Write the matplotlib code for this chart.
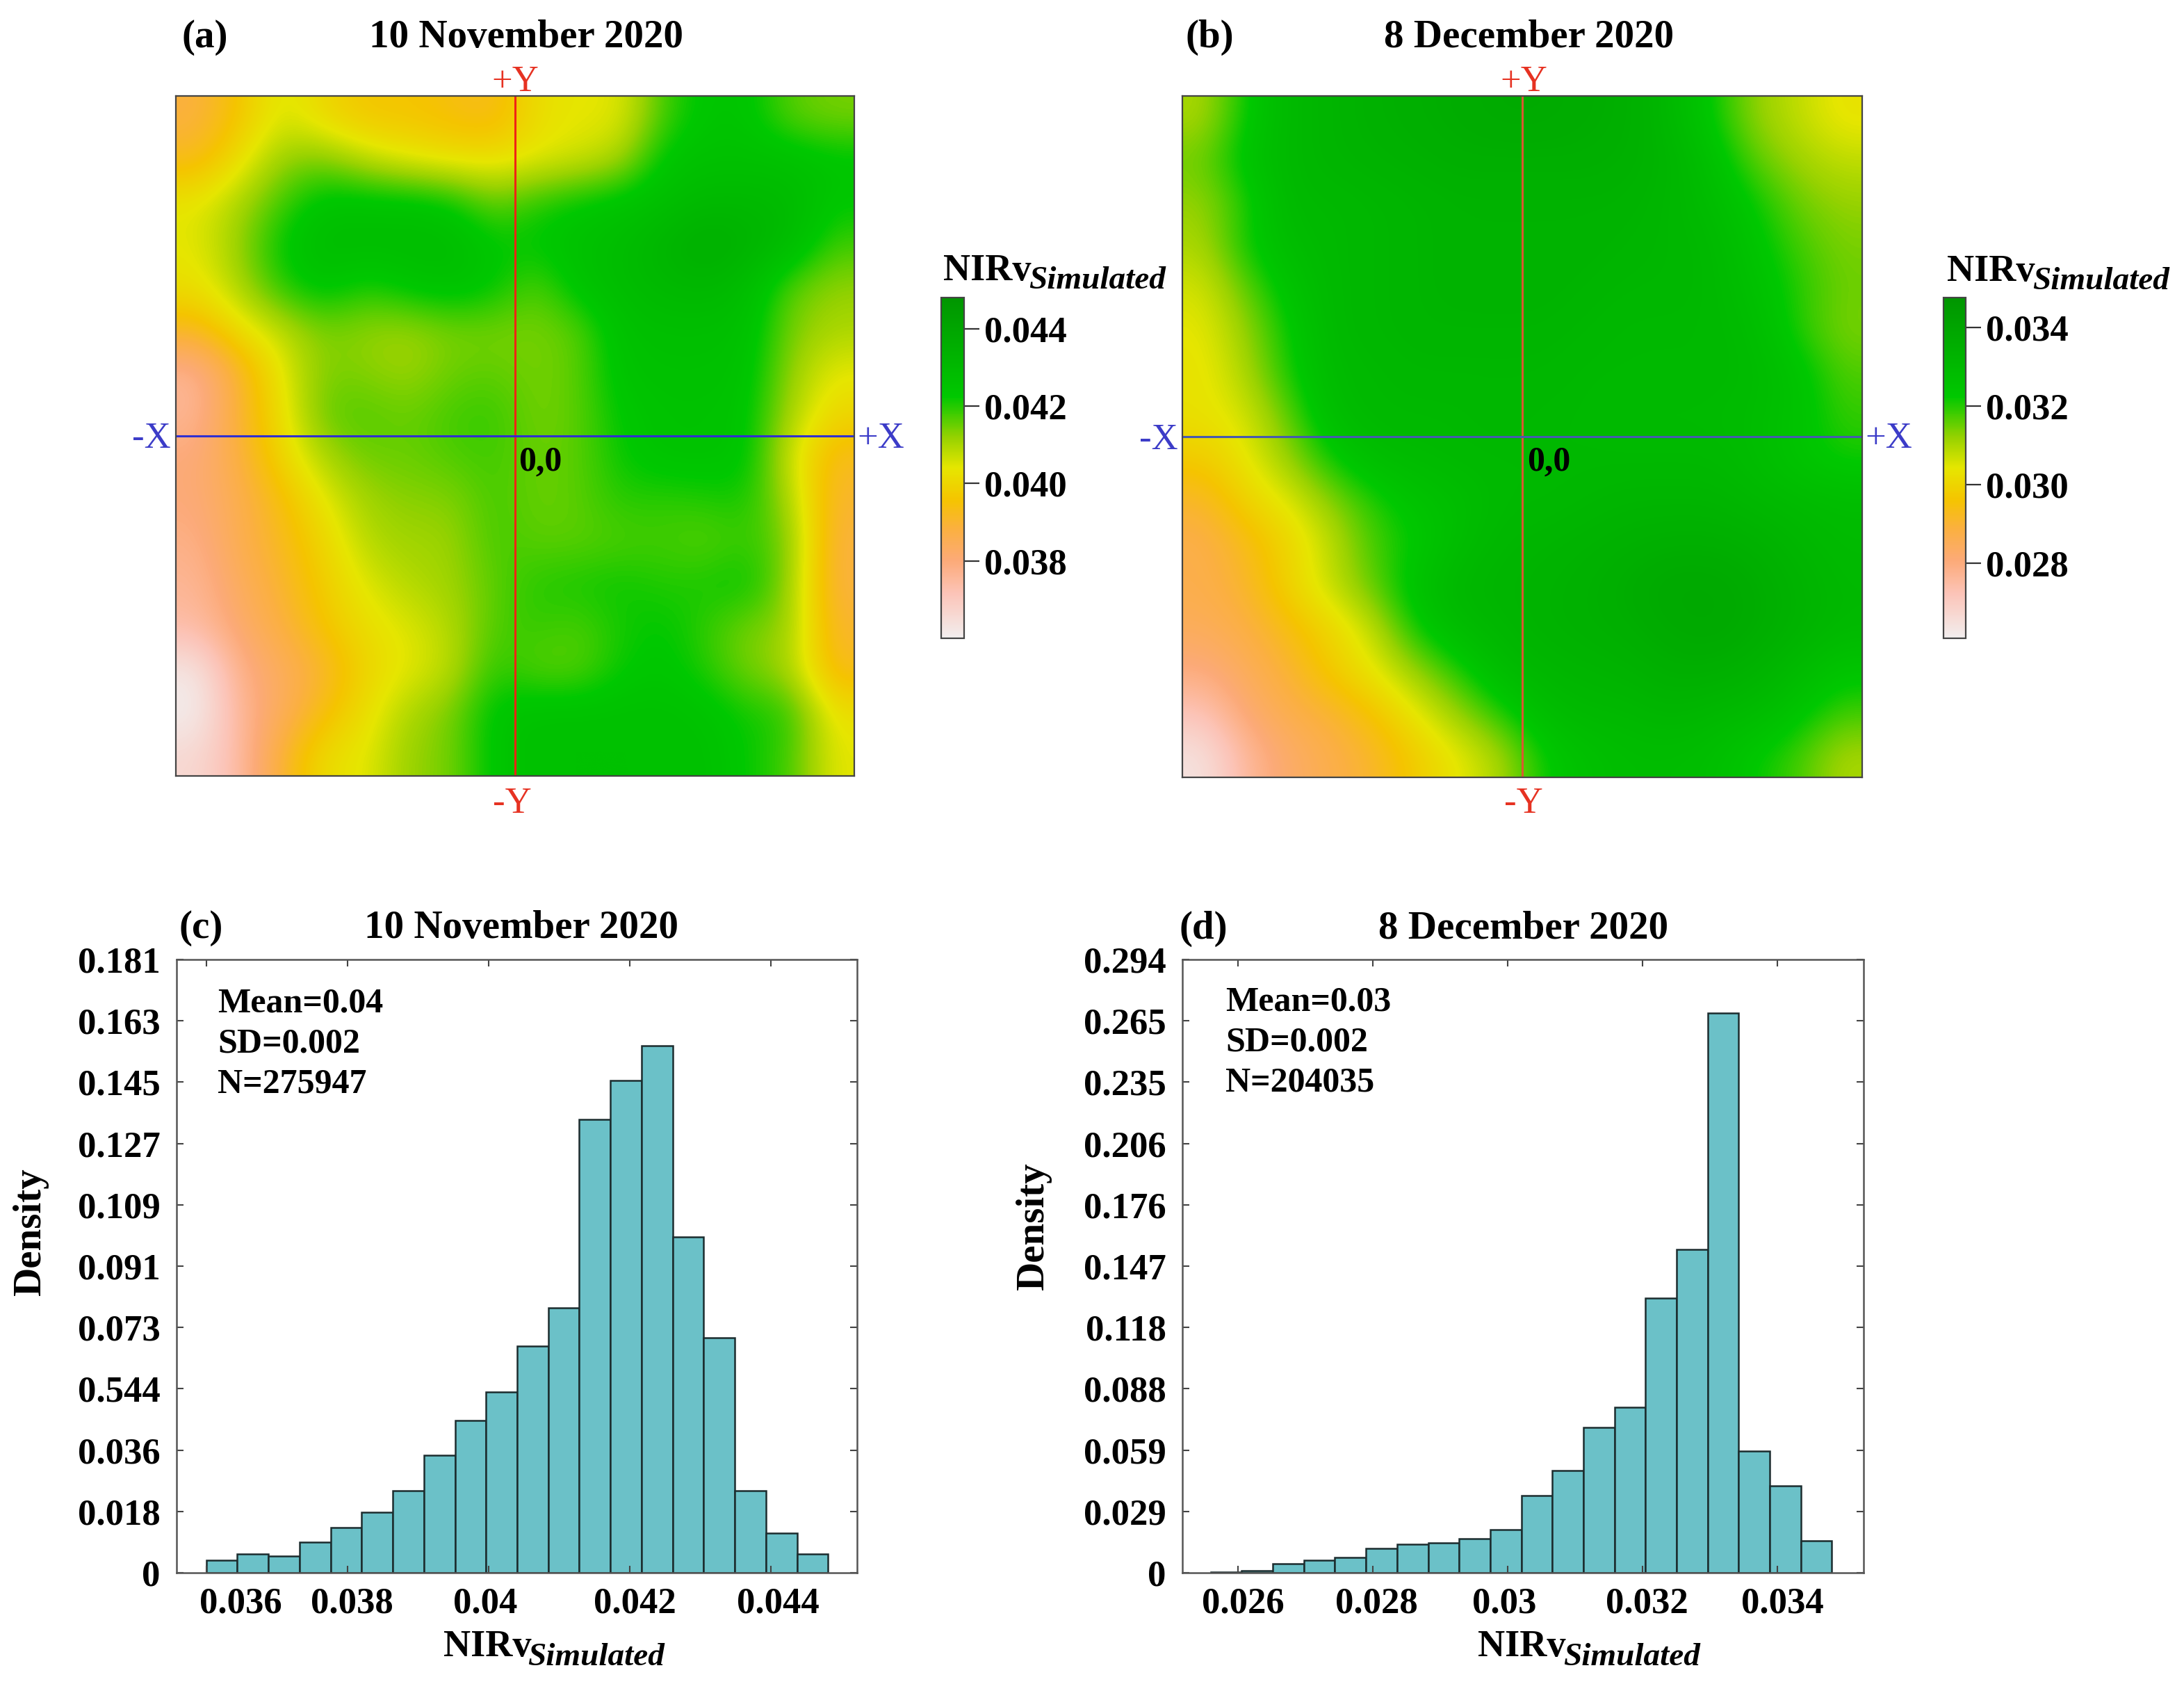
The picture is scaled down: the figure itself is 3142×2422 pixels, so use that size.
import numpy as np
import matplotlib
matplotlib.use('Agg')
import matplotlib.pyplot as plt
from matplotlib.colors import LinearSegmentedColormap
from matplotlib.transforms import ScaledTranslation

W, H = 3142, 2422
plt.rcParams['font.family'] = ['Liberation Serif', 'DejaVu Serif']
plt.rcParams['font.weight'] = 'bold'

# NIRv maps, units of 1e-4, top row first
map_nov = np.array([
    [388, 396, 406, 400, 396, 396, 394, 392, 402, 404, 404, 418, 424, 424, 416, 414],
    [392, 402, 412, 414, 408, 404, 402, 402, 404, 406, 410, 424, 426, 426, 426, 424],
    [404, 410, 418, 425, 425, 425, 423, 415, 420, 423, 425, 427, 430, 430, 429, 423],
    [404, 412, 423, 428, 428, 428, 428, 423, 423, 426, 428, 432, 436, 433, 429, 418],
    [402, 410, 420, 425, 420, 424, 426, 423, 416, 425, 428, 430, 431, 428, 416, 412],
    [392, 402, 408, 414, 412, 411, 414, 414, 414, 416, 426, 427, 427, 426, 414, 410],
    [376, 390, 404, 414, 413, 411, 415, 416, 414, 416, 425, 426, 426, 425, 412, 404],
    [376, 390, 402, 416, 417, 415, 418, 419, 414, 416, 423, 425, 425, 424, 410, 400],
    [380, 388, 400, 410, 415, 415, 417, 418, 415, 416, 422, 425, 425, 424, 406, 392],
    [380, 386, 394, 404, 411, 413, 413, 418, 415, 416, 420, 419, 420, 421, 410, 390],
    [378, 386, 392, 400, 409, 411, 411, 418, 416, 416, 417, 418, 416, 419, 414, 388],
    [376, 384, 390, 398, 405, 409, 411, 416, 420, 421, 422, 420, 421, 423, 412, 388],
    [374, 382, 388, 396, 402, 405, 409, 417, 419, 417, 421, 423, 419, 414, 412, 390],
    [362, 378, 384, 390, 400, 404, 408, 420, 416, 416, 422, 424, 420, 414, 410, 392],
    [360, 376, 384, 394, 402, 410, 414, 424, 426, 426, 426, 426, 425, 421, 420, 402],
    [366, 374, 390, 402, 404, 412, 414, 424, 426, 426, 426, 426, 426, 422, 418, 404],
]) * 1e-4

map_dec = np.array([
    [310, 322, 330, 332, 334, 335, 336, 337, 337, 336, 335, 330, 322, 312, 308, 303],
    [315, 325, 330, 332, 333, 334, 335, 335, 335, 335, 334, 332, 326, 316, 311, 308],
    [312, 320, 330, 330, 331, 332, 333, 333, 333, 333, 333, 331, 328, 322, 315, 312],
    [310, 322, 328, 330, 331, 332, 333, 333, 333, 333, 332, 331, 330, 324, 318, 314],
    [306, 316, 325, 330, 331, 332, 333, 333, 333, 332, 331, 331, 330, 326, 320, 315],
    [304, 312, 322, 330, 331, 332, 332, 332, 332, 331, 330, 330, 330, 328, 320, 314],
    [303, 310, 321, 329, 330, 331, 331, 331, 331, 330, 330, 330, 330, 329, 325, 317],
    [303, 306, 316, 328, 330, 330, 330, 331, 330, 330, 329, 329, 329, 328, 325, 319],
    [298, 304, 312, 322, 328, 329, 330, 330, 330, 330, 330, 330, 330, 328, 324, 321],
    [291, 300, 305, 313, 320, 325, 327, 330, 330, 331, 332, 332, 332, 330, 329, 328],
    [287, 293, 300, 308, 318, 322, 328, 331, 332, 333, 334, 335, 335, 334, 331, 329],
    [287, 291, 300, 308, 316, 326, 331, 332, 333, 334, 336, 338, 338, 336, 333, 330],
    [285, 288, 294, 300, 308, 322, 329, 331, 333, 334, 335, 337, 338, 336, 333, 330],
    [280, 285, 290, 298, 304, 312, 320, 329, 331, 332, 333, 335, 335, 333, 329, 324],
    [272, 282, 287, 290, 296, 304, 312, 320, 328, 330, 330, 332, 330, 329, 324, 318],
    [264, 276, 283, 287, 291, 298, 304, 310, 322, 326, 328, 328, 327, 322, 318, 310],
]) * 1e-4

# histogram bar heights
dens_nov = [.0037, .0055, .0049, .0090, .0134, .0178, .0243, .0346, .0449, .0533,
            .0668, .0782, .1337, .1453, .1556, .0992, .0694, .0243, .0116, .0055]
dens_dec = [.0002, .0010, .0044, .0061, .0073, .0116, .0136, .0143, .0162, .0208,
            .0371, .0490, .0696, .0793, .1316, .1549, .2683, .0584, .0417, .0153]
bins_nov = (0.0360, 0.04481)
bins_dec = (0.0256, 0.03481)

xticks_nov = [0.036, 0.038, 0.04, 0.042, 0.044]
xticks_dec = [0.026, 0.028, 0.03, 0.032, 0.034]
xlabels_nov = ['0.036', '0.038', '0.04', '0.042', '0.044']
xlabels_dec = ['0.026', '0.028', '0.03', '0.032', '0.034']
ylabels_nov = ['0', '0.018', '0.036', '0.544', '0.073', '0.091', '0.109', '0.127', '0.145', '0.163', '0.181']
ylabels_dec = ['0', '0.029', '0.059', '0.088', '0.118', '0.147', '0.176', '0.206', '0.235', '0.265', '0.294']
cb_ticks_nov = [0.038, 0.040, 0.042, 0.044]
cb_ticks_dec = [0.028, 0.030, 0.032, 0.034]

cmap = LinearSegmentedColormap.from_list('nirv', [
    (0.0, '#f2eeee'), (0.13, '#fcc4b8'), (0.227, '#fcaa78'), (0.32, '#fbb040'),
    (0.406, '#f5c400'), (0.5, '#e6e600'), (0.59, '#96d200'), (0.71, '#00c800'),
    (1.0, '#009600')])

fig = plt.figure(figsize=(W / 100, H / 100), dpi=100)


def axes_px(x0, y0, x1, y1):
    return fig.add_axes([x0 / W, 1 - y1 / H, (x1 - x0) / W, (y1 - y0) / H])


def label(x, y, s, size=41, ha='center', va='center', **kw):
    return fig.text(x / W, 1 - y / H, s, fontsize=size, ha=ha, va=va, **kw)


def nirv_label(x_nirv, x_sim, base, base_sim):
    label(x_nirv, base, 'NIRv', size=39, ha='left', va='baseline')
    label(x_sim, base_sim, 'Simulated', size=34, ha='left', va='baseline', style='italic')


def map_panel(box, data, vmin, vmax, cb_box, cb_ticks, vcol, hcol):
    ax = axes_px(*box)
    im = ax.imshow(data, cmap=cmap, vmin=vmin, vmax=vmax, extent=(-1, 1, -1, 1),
                   interpolation='bicubic', aspect='auto')
    ax.axvline(0, color=vcol, lw=2.2)
    ax.axhline(0, color=hcol, lw=2.2)
    ax.set_xticks([])
    ax.set_yticks([])
    for s in ax.spines.values():
        s.set_linewidth(1.6)
        s.set_color('#444444')
    cax = axes_px(*cb_box)
    cb = fig.colorbar(im, cax=cax, ticks=cb_ticks)
    cb.ax.set_yticklabels([f'{t:.3f}' for t in cb_ticks])
    cb.ax.tick_params(length=16, width=1.6, color='#333333', labelsize=38, pad=5)
    cb.outline.set_linewidth(1.6)
    cb.outline.set_edgecolor('#444444')
    return ax


def hist_panel(box, dens, bins, xlim, ymax, xticks, xlabels, ylabels, offsets):
    ax = axes_px(*box)
    edges = np.linspace(bins[0], bins[1], len(dens) + 1)
    ax.bar(edges[:-1], dens, width=np.diff(edges), align='edge',
           color='#6BC1C8', edgecolor='#1c2c2e', linewidth=1.8)
    ax.set_xlim(*xlim)
    ax.set_ylim(0, ymax)
    ax.set_xticks(xticks)
    ax.set_xticklabels(xlabels)
    ax.set_yticks(np.linspace(0, ymax, len(ylabels)))
    ax.set_yticklabels(ylabels)
    ax.tick_params(axis='both', direction='in', length=7, width=1.5, color='#444444',
                   top=True, right=True, labelsize=38)
    ax.tick_params(axis='x', pad=15)
    ax.tick_params(axis='y', pad=17)
    for s in ax.spines.values():
        s.set_linewidth(1.8)
        s.set_color('#555555')
    # x labels are not centred on their ticks in the original
    for lab, off in zip(ax.get_xticklabels(), offsets):
        lab.set_transform(lab.get_transform() + ScaledTranslation(off / 100, 0, fig.dpi_scale_trans))
    return ax


red = '#e63222'
blue = '#3c3cc8'

# (a)
map_panel((253, 138, 1229, 1116), map_nov, 0.0360, 0.0448, (1354, 428, 1387, 918),
          cb_ticks_nov, '#f02414', '#3030d0')
label(262, 54, '(a)', ha='left')
label(757, 54, '10 November 2020')
label(741, 118, '+Y', size=38, color=red, weight='normal')
label(737, 1156, '-Y', size=38, color=red, weight='normal')
label(218, 631, '-X', size=38, color=blue, weight='normal')
label(1267, 631, '+X', size=38, color=blue, weight='normal')
label(777, 665, '0,0', size=36)
nirv_label(1357, 1480, 403, 415)

# (b)
map_panel((1701, 138, 2679, 1118), map_dec, 0.0261, 0.03476, (2796, 428, 2828, 918),
          cb_ticks_dec, '#d85a30', '#465ab0')
label(1705, 54, '(b)', ha='left')
label(2200, 54, '8 December 2020')
label(2192, 118, '+Y', size=38, color=red, weight='normal')
label(2192, 1156, '-Y', size=38, color=red, weight='normal')
label(1667, 633, '-X', size=38, color=blue, weight='normal')
label(2717, 631, '+X', size=38, color=blue, weight='normal')
label(2228, 665, '0,0', size=36)
nirv_label(2801, 2924, 404, 416)

# (c)
hist_panel((254, 1380, 1233, 2262), dens_nov, bins_nov, (0.03558, 0.04522), 0.181,
           xticks_nov, xlabels_nov, ylabels_nov, [50, 7, -5, 7, 10])
label(258, 1335, '(c)', ha='left')
label(750, 1335, '10 November 2020')
for y, s in zip([1443, 1501, 1559], ['Mean=0.04', 'SD=0.002', 'N=275947']):
    label(313, y, s, size=36, ha='left')
label(44, 1771, 'Density', rotation=90)
nirv_label(638, 759, 2382, 2395)

# (d)
hist_panel((1701, 1380, 2681, 2262), dens_dec, bins_dec, (0.02518, 0.03528), 0.294,
           xticks_dec, xlabels_dec, ylabels_dec, [8, 6, -4, 7, 8])
label(1697, 1336, '(d)', ha='left')
label(2192, 1336, '8 December 2020')
for y, s in zip([1441, 1499, 1557], ['Mean=0.03', 'SD=0.002', 'N=204035']):
    label(1763, y, s, size=36, ha='left')
label(1487, 1763, 'Density', rotation=90)
nirv_label(2126, 2249, 2382, 2395)

fig.savefig('out.png', dpi=100)
